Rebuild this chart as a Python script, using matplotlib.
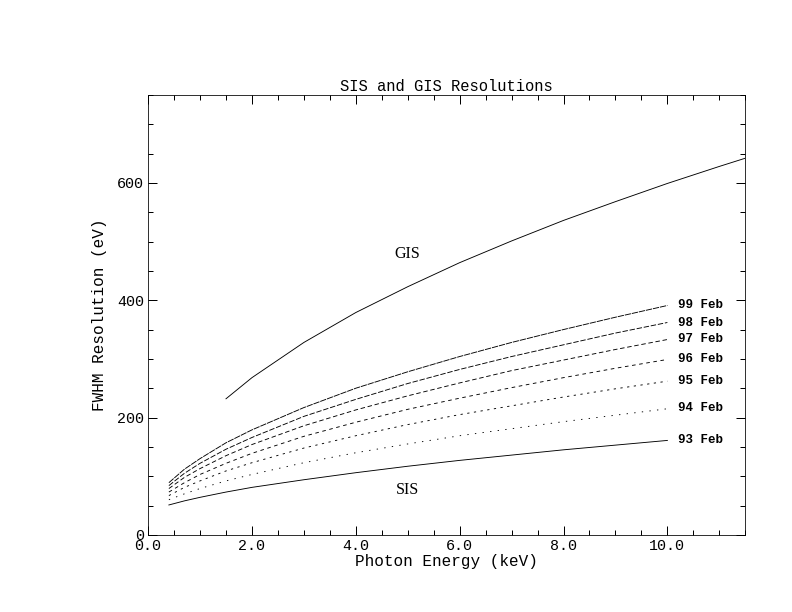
import matplotlib
matplotlib.use("Agg")
import matplotlib.pyplot as plt
from matplotlib.ticker import MultipleLocator, FormatStrFormatter

energy_sis = [0.4, 0.7, 1.0, 1.5, 2.0, 3.0, 4.0, 5.0, 6.0, 7.0, 8.0, 9.0, 10.0]
energy_gis = [1.5, 2.0, 3.0, 4.0, 5.0, 6.0, 7.0, 8.0, 9.0, 10.0, 11.0, 11.5]

# FWHM resolution (eV)
gis = [232, 268, 328, 379, 423, 464, 501, 536, 568, 599, 628, 642]
sis_99 = [89, 112, 130, 157, 179, 217, 250, 278, 304, 328, 350, 371, 391]
sis_98 = [84, 105, 122, 146, 166, 202, 231, 258, 282, 304, 324, 344, 362]
sis_97 = [79, 98, 113, 135, 154, 186, 213, 237, 259, 280, 298, 316, 333]
sis_96 = [73, 89, 103, 122, 139, 168, 192, 214, 233, 251, 268, 284, 299]
sis_95 = [67, 81, 92, 109, 123, 148, 169, 188, 205, 220, 235, 249, 262]
sis_94 = [60, 70, 79, 92, 103, 123, 140, 155, 169, 181, 193, 204, 215]
sis_93 = [51, 58, 64, 73, 81, 94, 106, 117, 127, 136, 145, 153, 161]

labels = ["99 Feb", "98 Feb", "97 Feb", "96 Feb", "95 Feb", "94 Feb", "93 Feb"]
label_y = [392, 362, 334, 300, 262, 216, 162]

plt.rcParams["font.family"] = "Liberation Mono"

fig = plt.figure(figsize=(11, 8.5), dpi=72)
ax = fig.add_axes([0.187, 0.126, 0.754, 0.719])

series = [sis_99, sis_98, sis_97, sis_96, sis_95, sis_94, sis_93]
dashes = [(7, 1), (6, 2), (5, 3), (4, 4), (2.5, 5), (1.5, 7), None]
for vals, d in zip(series, dashes):
    if d is None:
        ax.plot(energy_sis, vals, color="black", lw=0.9)
    else:
        ax.plot(energy_sis, vals, color="black", lw=0.9, dashes=d)
ax.plot(energy_gis, gis, color="black", lw=0.9)

for lab, y in zip(labels, label_y):
    ax.text(10.2, y, lab, fontsize=12.5, fontweight="bold", va="center", ha="left")

ax.text(5.0, 479, "GIS", fontsize=16, family="Liberation Serif", ha="center", va="center")
ax.text(5.0, 77, "SIS", fontsize=16, family="Liberation Serif", ha="center", va="center")

ax.set_xlim(0, 11.5)
ax.set_ylim(0, 750)
ax.xaxis.set_major_locator(MultipleLocator(2))
ax.xaxis.set_minor_locator(MultipleLocator(0.5))
ax.yaxis.set_major_locator(MultipleLocator(200))
ax.yaxis.set_minor_locator(MultipleLocator(50))
ax.xaxis.set_major_formatter(FormatStrFormatter("%.1f"))
ax.tick_params(which="both", direction="in", top=True, right=True, labelsize=15, width=1)
ax.tick_params(which="major", length=9, pad=4)
ax.tick_params(which="minor", length=5)

ax.set_title("SIS and GIS Resolutions", fontsize=15.5, pad=4)
ax.set_xlabel("Photon Energy (keV)", fontsize=16, labelpad=1)
ax.set_ylabel("FWHM Resolution (eV)", fontsize=16, labelpad=10)

fig.savefig("out.png", dpi=72)
